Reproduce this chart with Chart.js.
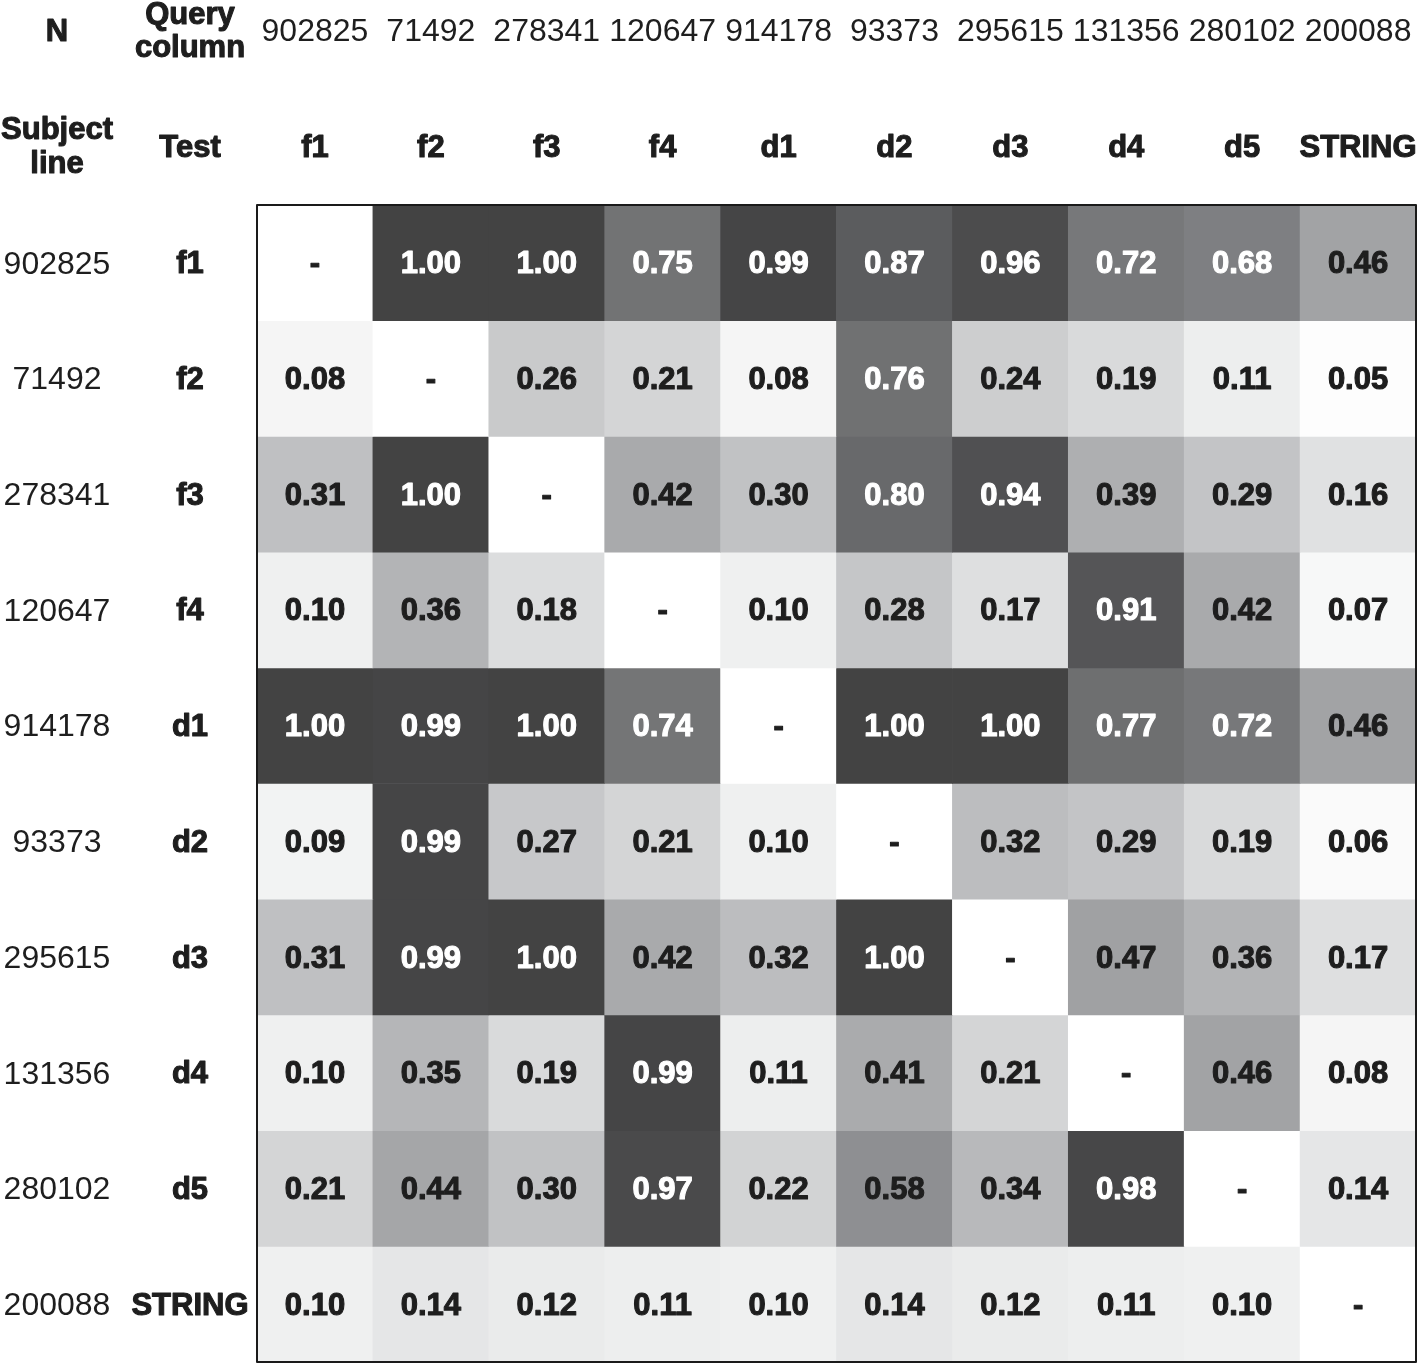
<!DOCTYPE html>
<html>
<head>
<meta charset="utf-8">
<script src="https://cdn.jsdelivr.net/npm/chart.js@4.4.1/dist/chart.umd.min.js"></script>
<style>
  html, body { margin: 0; padding: 0; background: #ffffff; }
  #wrap { width: 1424px; height: 1364px; }
</style>
</head>
<body>
<div id="wrap"><canvas id="c" width="1424" height="1364"></canvas></div>
<script>
// ---- Data ----
const columnTests = ['f1', 'f2', 'f3', 'f4', 'd1', 'd2', 'd3', 'd4', 'd5', 'STRING'];
const columnN = ['902825', '71492', '278341', '120647', '914178', '93373', '295615', '131356', '280102', '200088'];
const rowTests = ['f1', 'f2', 'f3', 'f4', 'd1', 'd2', 'd3', 'd4', 'd5', 'STRING'];
const rowN = ['902825', '71492', '278341', '120647', '914178', '93373', '295615', '131356', '280102', '200088'];

const rowF1 = [null, 1.00, 1.00, 0.75, 0.99, 0.87, 0.96, 0.72, 0.68, 0.46];
const rowF2 = [0.08, null, 0.26, 0.21, 0.08, 0.76, 0.24, 0.19, 0.11, 0.05];
const rowF3 = [0.31, 1.00, null, 0.42, 0.30, 0.80, 0.94, 0.39, 0.29, 0.16];
const rowF4 = [0.10, 0.36, 0.18, null, 0.10, 0.28, 0.17, 0.91, 0.42, 0.07];
const rowD1 = [1.00, 0.99, 1.00, 0.74, null, 1.00, 1.00, 0.77, 0.72, 0.46];
const rowD2 = [0.09, 0.99, 0.27, 0.21, 0.10, null, 0.32, 0.29, 0.19, 0.06];
const rowD3 = [0.31, 0.99, 1.00, 0.42, 0.32, 1.00, null, 0.47, 0.36, 0.17];
const rowD4 = [0.10, 0.35, 0.19, 0.99, 0.11, 0.41, 0.21, null, 0.46, 0.08];
const rowD5 = [0.21, 0.44, 0.30, 0.97, 0.22, 0.58, 0.34, 0.98, null, 0.14];
const rowString = [0.10, 0.14, 0.12, 0.11, 0.10, 0.14, 0.12, 0.11, 0.10, null];

const matrixRows = [rowF1, rowF2, rowF3, rowF4, rowD1, rowD2, rowD3, rowD4, rowD5, rowString];

// ---- Colour scale (style) ----
const colorStops = [
  [0.00, [255, 255, 255]],
  [0.05, [253, 253, 253]],
  [0.10, [239, 240, 240]],
  [0.17, [222, 223, 224]],
  [0.24, [205, 206, 207]],
  [0.30, [193, 194, 196]],
  [0.36, [179, 180, 182]],
  [0.44, [165, 166, 168]],
  [0.58, [142, 143, 146]],
  [0.68, [126, 127, 130]],
  [0.76, [112, 113, 114]],
  [0.87, [91, 92, 94]],
  [0.94, [80, 80, 82]],
  [1.00, [67, 67, 67]]
];
function cellColor(v) {
  if (v === null || v === undefined) return '#ffffff';
  for (let k = 1; k < colorStops.length; k++) {
    const [v1, c1] = colorStops[k];
    const [v0, c0] = colorStops[k - 1];
    if (v <= v1) {
      const t = (v - v0) / (v1 - v0);
      const c = c0.map((a, i) => Math.round(a + (c1[i] - a) * t));
      return `rgb(${c[0]},${c[1]},${c[2]})`;
    }
  }
  return 'rgb(67,67,67)';
}

const FONT = '"Liberation Sans", Arial, sans-serif';
const TEXT_DARK = '#1e1e1e';

const datasets = matrixRows.map((row, i) => ({
  label: rowTests[i],
  data: row.map(() => 1),
  values: row,
  backgroundColor: row.map(cellColor),
  borderWidth: 0,
  barPercentage: 1.0,
  categoryPercentage: 1.0,
  stack: 'grid'
}));

function boldText(ctx, text, x, y, color) {
  ctx.fillStyle = color;
  ctx.strokeStyle = color;
  ctx.lineWidth = 1.1;
  ctx.lineJoin = 'round';
  ctx.font = `bold 31px ${FONT}`;
  ctx.fillText(text, x, y);
  ctx.strokeText(text, x, y);
}
function plainText(ctx, text, x, y) {
  ctx.fillStyle = TEXT_DARK;
  ctx.font = `32px ${FONT}`;
  ctx.fillText(text, x, y);
}

const labelsPlugin = {
  id: 'heatLabels',
  afterDatasetsDraw(chart) {
    const ctx = chart.ctx;
    const xs = chart.scales.x;
    const area = chart.chartArea;
    ctx.save();
    ctx.textAlign = 'center';
    ctx.textBaseline = 'middle';
    // cell values
    chart.data.datasets.forEach((ds, i) => {
      const meta = chart.getDatasetMeta(i);
      meta.data.forEach((bar, j) => {
        const v = ds.values[j];
        const p = bar.getCenterPoint();
        if (v === null) {
          boldText(ctx, '-', p.x, p.y + 2, TEXT_DARK);
        } else {
          boldText(ctx, v.toFixed(2), p.x, p.y + 2, v >= 0.6 ? '#ffffff' : TEXT_DARK);
        }
      });
      // row headers
      const c0 = meta.data[0].getCenterPoint();
      plainText(ctx, rowN[i], 57, c0.y + 2);
      boldText(ctx, rowTests[i], 190, c0.y + 2, TEXT_DARK);
    });
    // column headers
    columnTests.forEach((t, j) => {
      const x = xs.getPixelForValue(j);
      plainText(ctx, columnN[j], x, 32);
      boldText(ctx, t, x, 148, TEXT_DARK);
    });
    // corner labels
    boldText(ctx, 'N', 57, 32, TEXT_DARK);
    boldText(ctx, 'Query', 190, 15, TEXT_DARK);
    boldText(ctx, 'column', 190, 48, TEXT_DARK);
    boldText(ctx, 'Subject', 57, 130, TEXT_DARK);
    boldText(ctx, 'line', 57, 164, TEXT_DARK);
    boldText(ctx, 'Test', 190, 148, TEXT_DARK);
    // border
    ctx.strokeStyle = '#1a1a1a';
    ctx.lineWidth = 2;
    ctx.strokeRect(area.left, area.top, area.right - area.left, area.bottom - area.top);
    ctx.restore();
  }
};

new Chart(document.getElementById('c'), {
  type: 'bar',
  data: { labels: columnTests, datasets },
  options: {
    responsive: false,
    animation: false,
    devicePixelRatio: 1,
    layout: { padding: { left: 257, top: 205, right: 8, bottom: 2 } },
    plugins: { legend: { display: false }, tooltip: { enabled: false } },
    scales: {
      x: { type: 'category', display: false, stacked: true, offset: true, grid: { display: false } },
      y: { type: 'linear', display: false, stacked: true, min: 0, max: 10, reverse: true, grid: { display: false } }
    }
  },
  plugins: [labelsPlugin]
});
</script>
</body>
</html>
